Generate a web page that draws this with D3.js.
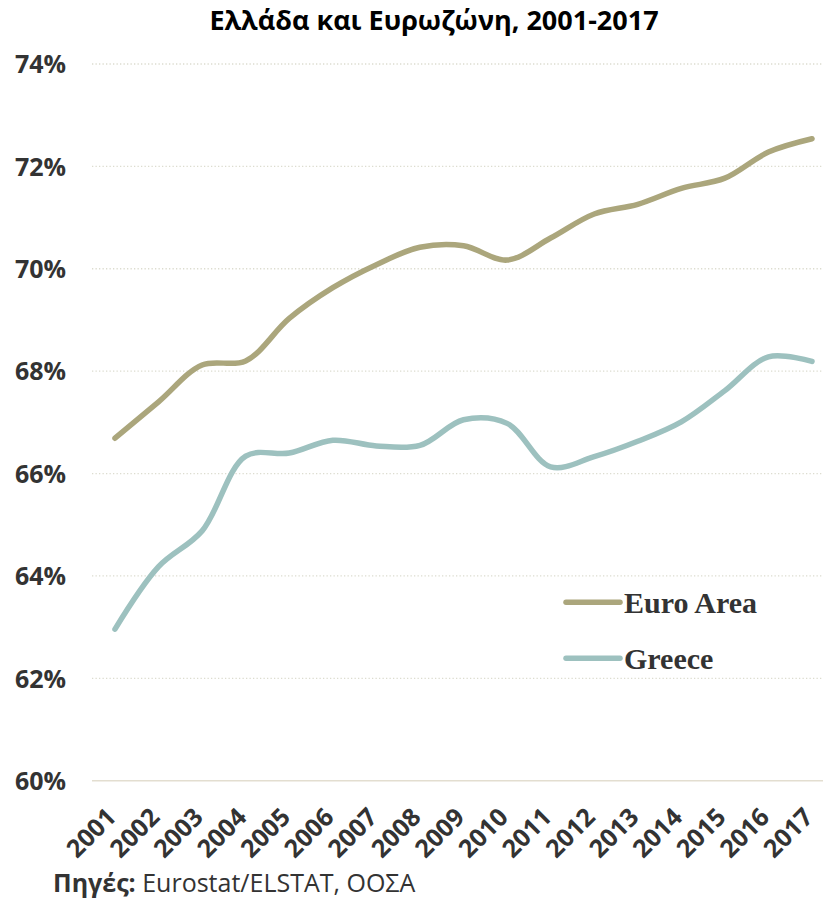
<!DOCTYPE html>
<html>
<head>
<meta charset="utf-8">
<script src="https://cdn.jsdelivr.net/npm/d3@7"></script>
<style>
  html, body { margin: 0; padding: 0; background: #fff; }
  svg { display: block; }
</style>
</head>
<body>
<svg id="chart" width="823" height="907"></svg>
<script>
const years = [2001,2002,2003,2004,2005,2006,2007,2008,2009,2010,2011,2012,2013,2014,2015,2016,2017];
const euroArea = [66.69,67.40,68.12,68.20,69.03,69.63,70.08,70.42,70.45,70.17,70.60,71.07,71.26,71.57,71.77,72.28,72.54];
const greece = [62.96,64.18,64.88,66.34,66.40,66.65,66.54,66.55,67.05,66.98,66.13,66.33,66.63,67.01,67.62,68.28,68.19];
const yTicks = [60,62,64,66,68,70,72,74];
const seriesNames = ["Euro Area","Greece"];
const titleText = "Ελλάδα και Ευρωζώνη, 2001-2017";
const sourceBold = "Πηγές:";
const sourceRest = " Eurostat/ELSTAT, ΟΟΣΑ";

const colors = {"Euro Area":"#aba67c","Greece":"#9dc1bf"};
const textColor = "#333333";
const svg = d3.select("#chart");

const x = d3.scalePoint().domain(years).range([115, 812]);
const y = d3.scaleLinear().domain([60, 74]).range([780.7, 64]);

// gridlines
const gridLeft = 92, gridRight = 823;
svg.append("g").selectAll("line").data(yTicks.filter(t => t !== 60)).join("line")
  .attr("x1", gridLeft).attr("x2", gridRight)
  .attr("y1", d => y(d)).attr("y2", d => y(d))
  .attr("stroke", "#dcdccf").attr("stroke-width", 1.3)
  .attr("stroke-dasharray", "1.3,2.2");
svg.append("line")
  .attr("x1", gridLeft).attr("x2", gridRight)
  .attr("y1", y(60)).attr("y2", y(60))
  .attr("stroke", "#e3ded0").attr("stroke-width", 1.6);

// y axis labels
const yAxis = d3.axisLeft(y).tickValues(yTicks).tickFormat(d => d + "%").tickSize(0).tickPadding(0);
const yg = svg.append("g").attr("transform", "translate(66,0)").call(yAxis);
yg.select(".domain").remove();
yg.selectAll("text")
  .attr("fill", textColor)
  .style("font-family", "'Open Sans', sans-serif")
  .style("font-weight", "bold")
  .style("font-size", "25px")
  .attr("dy", "0.35em");

// x axis labels
const xAxis = d3.axisBottom(x).tickSize(0).tickPadding(0);
const xg = svg.append("g").attr("transform", `translate(0,${y(60)})`).call(xAxis);
xg.select(".domain").remove();
xg.selectAll("text")
  .attr("fill", textColor)
  .style("font-family", "'Open Sans', sans-serif")
  .style("font-weight", "bold")
  .style("font-size", "25px")
  .attr("text-anchor", "end")
  .attr("dy", "0")
  .attr("x", 0).attr("y", 0)
  .attr("transform", "translate(2,38) rotate(-45)");

// lines
const line = d3.line()
  .x((d, i) => x(years[i]))
  .y(d => y(d))
  .curve(d3.curveCatmullRom.alpha(0.5));

[["Euro Area", euroArea], ["Greece", greece]].forEach(([name, vals]) => {
  svg.append("path")
    .datum(vals)
    .attr("d", line)
    .attr("fill", "none")
    .attr("stroke", colors[name])
    .attr("stroke-width", 5.5)
    .attr("stroke-linecap", "round")
    .attr("stroke-linejoin", "round");
});

// legend
const legend = svg.append("g");
const legendY = [602.3, 658.3];
seriesNames.forEach((name, i) => {
  legend.append("line")
    .attr("x1", 566).attr("x2", 620)
    .attr("y1", legendY[i]).attr("y2", legendY[i])
    .attr("stroke", colors[name]).attr("stroke-width", 5.5)
    .attr("stroke-linecap", "round");
  legend.append("text")
    .attr("x", 624).attr("y", legendY[i] + 10.5)
    .attr("fill", textColor)
    .style("font-family", "'Liberation Serif', serif")
    .style("font-weight", "bold")
    .style("font-size", "30px")
    .text(name);
});

// title
svg.append("text")
  .attr("x", 434).attr("y", 30)
  .attr("text-anchor", "middle")
  .attr("fill", "#000")
  .style("font-family", "'Open Sans', sans-serif")
  .style("font-weight", "bold")
  .style("font-size", "27px")
  .text(titleText);

// source
const src = svg.append("text")
  .attr("x", 53).attr("y", 892)
  .attr("fill", textColor)
  .style("font-family", "'Open Sans', sans-serif")
  .style("font-size", "25px");
src.append("tspan").style("font-weight", "bold").text(sourceBold);
src.append("tspan").text(sourceRest);
</script>
</body>
</html>
